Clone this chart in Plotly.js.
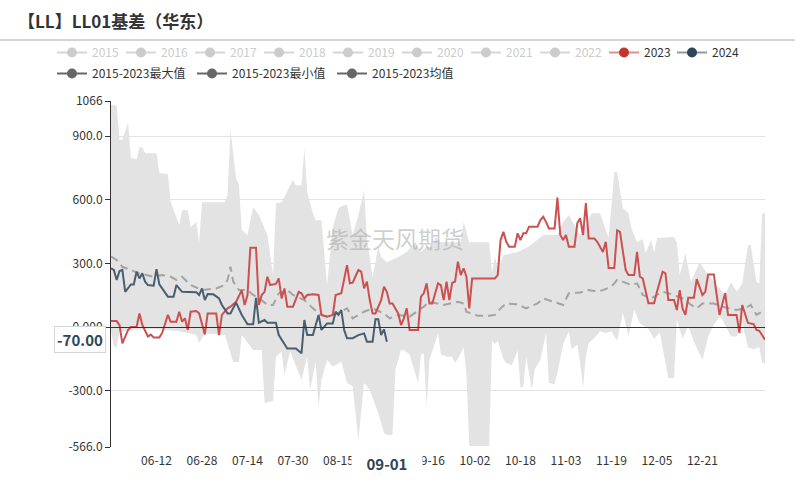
<!DOCTYPE html>
<html>
<head>
<meta charset="utf-8">
<script src="https://cdn.plot.ly/plotly-3.0.1.min.js"></script>
<style>
  html, body { margin: 0; padding: 0; background: #fff; }
  #basisPlot { width: 806px; height: 490px; }
</style>
</head>
<body>
<div id="basisPlot"></div>
<script>
// x axis is a season (MM-DD), from late May into January
let tickDays = ['06-12', '06-28', '07-14', '07-30', '08-15', '09-16', '10-02', '10-18', '11-03', '11-19', '12-05', '12-21'];

// 2015-2023 max / min band
let maxDays = ['05-27','05-29','05-30','05-31','06-02','06-03','06-05','06-06','06-07','06-08','06-12','06-13','06-16','06-17','06-20','06-21','06-23','06-24','06-26','06-27','06-28',
  '07-06','07-07','07-08','07-10','07-11','07-12','07-14','07-16','07-18','07-21','07-23','07-24','07-26','07-30','07-31','08-02','08-03','08-04','08-06','08-07','08-09','08-11','08-13',
  '08-15','08-17','08-18','08-20','08-22','08-24','08-25','08-27','08-29','08-30','09-01','09-05','09-08','09-11','09-13','09-15','09-17','09-18','09-20','09-27','09-28','09-30',
  '10-07','10-08','10-09','10-10','10-12','10-17','10-21','10-26','10-31','11-02','11-04','11-08','11-10','11-12','11-15','11-16','11-18','11-20','11-21','11-23','11-25','11-26',
  '11-28','11-30','12-01','12-03','12-04','12-05','12-09','12-11','12-12','12-13','12-15','12-17','12-18','12-20','12-23','12-25','12-27','12-29','12-31','01-02','01-04','01-06',
  '01-07','01-09','01-10','01-11','01-12'];
let maxVals = [1047,1045,882,882,966,800,790,848,848,820,820,726,722,589,481,551,551,471,495,400,589,
  589,622,928,702,669,457,434,565,528,434,245,584,589,693,669,669,844,636,537,504,504,198,470,
  561,575,575,434,528,645,420,236,377,330,306,330,354,400,354,380,377,424,400,400,495,400,
  400,260,330,278,339,354,380,434,434,495,528,434,481,537,537,495,420,731,731,561,537,467,
  400,415,349,410,349,420,424,424,400,245,349,212,245,306,245,212,184,151,212,168,205,387,
  387,212,205,537,537];

let minDays = ['05-27','05-28','05-29','05-30','06-03','06-10','06-15','06-20','06-26','06-27','06-29','07-04','07-06','07-09','07-11','07-12','07-16','07-19','07-20','07-23','07-24',
  '07-26','07-27','07-29','07-31','08-02','08-04','08-05','08-07','08-08','08-09','08-11','08-13','08-16','08-18','08-20','08-22','08-24','08-26','08-29','08-31','09-01','09-03',
  '09-04','09-06','09-07','09-09','09-12','09-13','09-14','09-15','09-16','09-19','09-20','09-22','09-24','09-25','09-27','09-28','09-29','09-30','10-07','10-08','10-09','10-10',
  '10-12','10-13','10-15','10-17','10-18','10-19','10-20','10-22','10-23','10-25','10-27','10-28','10-30','10-31','11-02','11-04','11-05','11-07','11-08','11-09','11-10','11-11',
  '11-13','11-15','11-17','11-19','11-20','11-21','11-23','11-25','11-27','11-29','12-02','12-04','12-06','12-09','12-11','12-12','12-14','12-16','12-18','12-21','12-23','12-25',
  '12-27','12-28','12-31','01-02','01-04','01-06','01-08','01-10','01-11','01-12'];
let minVals = [-20,-90,-95,-20,-15,-10,-14,-20,-38,-75,-30,-38,-38,-165,-165,-38,-108,-108,-358,-350,-140,
  -116,-226,-116,-179,-250,-140,-297,-164,-377,-250,-155,-187,-164,-264,-280,-533,-264,-297,-406,-500,-509,-509,
  -203,-108,-108,-130,-265,-130,-125,-377,-155,-30,-130,-140,-140,-170,-125,-95,-218,-561,-561,-65,-80,-65,
  -150,-170,-180,-110,-288,-280,-140,-295,-200,-155,-28,-263,-270,-215,-83,-20,-105,-83,-170,-288,-138,-75,
  -52,-20,-28,-20,-42,-65,66,-42,80,18,-10,-55,-25,-240,-240,35,-55,5,-70,-155,-45,10,
  50,35,-45,-45,18,-95,-105,-95,-170,-170];

// 2015-2023 mean
let meanDays = ['05-27','05-29','05-31','06-03','06-06','06-11','06-14','06-17','06-19','06-21','06-24','06-28','07-03','07-06','07-07','07-08','07-09','07-11','07-14','07-16',
  '07-18','07-21','07-23','07-25','07-28','07-30','08-03','08-06','08-09','08-11','08-14','08-18','08-20','08-24','08-27','08-31','09-02','09-05','09-09','09-14','09-16','09-21',
  '09-26','09-28','09-29','10-03','10-07','10-09','10-11','10-13','10-17','10-20','10-24','10-26','10-30','11-02','11-04','11-08','11-11','11-14','11-16','11-19','11-21','11-23',
  '11-26','11-28','11-30','12-03','12-05','12-07','12-11','12-14','12-17','12-19','12-21','12-25','12-28','12-31','01-02','01-05','01-07','01-09','01-11'];
let meanVals = [332,316,284,269,253,237,245,237,222,237,198,174,182,198,222,284,214,174,174,151,
  137,104,104,159,174,151,127,88,57,49,60,88,41,72,88,64,41,57,49,96,119,104,
  119,111,72,53,53,57,88,111,107,88,111,135,116,104,159,163,174,167,174,190,222,214,
  198,206,151,135,151,167,151,135,104,88,111,111,96,88,80,88,104,57,72];

// 2023
let days2023 = ['05-27','05-29','05-30','05-31','06-02','06-03','06-05','06-06','06-07','06-09','06-10','06-11','06-13','06-14','06-16','06-17','06-19','06-20','06-21','06-22',
  '06-23','06-24','06-26','06-27','06-29','06-30','07-01','07-03','07-04','07-05','07-07','07-08','07-10','07-12','07-13','07-14','07-15','07-17','07-18','07-19','07-20','07-21',
  '07-22','07-24','07-25','07-26','07-27','07-28','07-30','08-01','08-02','08-03','08-04','08-06','08-08','08-09','08-11','08-13','08-14','08-16','08-18','08-19','08-20','08-22',
  '08-23','08-24','08-25','08-26','08-27','08-28','08-30','08-31','09-01','09-02','09-03','09-05','09-06','09-07','09-08','09-09','09-12','09-13','09-14','09-15','09-16','09-17',
  '09-19','09-20','09-21','09-22','09-23','09-24','09-25','09-26','09-27','09-28','09-29','09-30','10-01','10-09','10-10','10-11','10-12','10-13','10-14','10-16','10-17','10-18',
  '10-19','10-20','10-21','10-24','10-25','10-26','10-27','10-28','10-30','10-31','11-01','11-02','11-03','11-04','11-06','11-07','11-08','11-09','11-10','11-11','11-13','11-14',
  '11-16','11-17','11-18','11-20','11-21','11-22','11-24','11-25','11-27','11-28','11-29','11-30','12-02','12-04','12-05','12-07','12-08','12-09','12-11','12-12','12-13','12-14',
  '12-15','12-16','12-18','12-19','12-21','12-22','12-23','12-25','12-27','12-29','12-30','01-02','01-03','01-04','01-06','01-08','01-09','01-10','01-12'];
let vals2023 = [28,28,9,-77,-14,0,0,64,10,-45,-36,-49,-49,-28,57,25,25,72,25,41,
  -14,72,75,64,-35,64,64,64,-38,57,88,96,119,174,104,151,374,374,104,151,166,237,
  198,203,229,135,182,96,96,166,159,135,151,154,151,57,49,57,151,159,292,206,209,269,
  261,182,214,127,64,64,127,190,166,111,111,64,9,41,88,-14,-14,143,159,206,111,111,
  206,198,127,214,127,209,214,308,245,277,237,88,229,229,245,410,449,402,379,379,442,410,
  442,442,473,473,504,520,496,465,465,610,434,410,434,379,379,490,513,434,584,418,418,402,
  354,402,278,278,456,449,269,245,245,354,237,229,112,112,166,261,253,127,127,80,174,88,
  57,138,138,226,151,166,248,248,57,160,57,57,-28,104,19,14,-14,-18,-60];

// 2024
let days2024 = ['05-27','05-28','05-29','05-30','05-31','06-01','06-03','06-04','06-05','06-06','06-07','06-08','06-09','06-11','06-12','06-13','06-14','06-16','06-18','06-19',
  '06-21','06-23','06-26','06-27','06-28','06-29','06-30','07-02','07-03','07-04','07-05','07-07','07-08','07-10','07-12','07-14','07-16','07-17','07-18','07-20','07-21','07-24',
  '07-25','07-27','07-28','07-31','08-02','08-03','08-04','08-06','08-08','08-09','08-11','08-13','08-14','08-15','08-16','08-17','08-18','08-20','08-22','08-24','08-25','08-27',
  '08-28','08-29','08-30','08-31','09-01'];
let vals2024 = [277,269,222,264,269,166,201,201,261,229,253,214,198,195,273,201,182,143,143,198,
  166,164,164,151,182,127,155,154,146,135,104,64,64,115,57,13,13,138,20,33,20,20,
  -38,-77,-101,-101,-124,33,-38,-38,57,-14,17,17,72,57,80,-14,-53,-53,-38,-30,-69,-69,
  36,36,-38,-11,-70];

let greyYears = ['2015', '2016', '2017', '2018', '2019', '2020', '2021', '2022'];
let statNames = ['2015-2023最大值', '2015-2023最小值', '2015-2023均值'];

function toDate(md) {
  // January belongs to the following year of the season
  return (md.slice(0, 2) === '01' ? '2024-' : '2023-') + md;
}

let basisPlot = document.getElementById('basisPlot');

function makeBasisPlot(plotDiv) {
  let minTrace = {
    x: minDays.map(toDate), y: minVals,
    type: 'scatter', mode: 'lines',
    line: { width: 0, color: '#e3e3e3' },
    showlegend: false, hoverinfo: 'skip'
  };
  let maxTrace = {
    x: maxDays.map(toDate), y: maxVals,
    type: 'scatter', mode: 'lines',
    line: { width: 0, color: '#e3e3e3' },
    fill: 'tonexty', fillcolor: '#e3e3e3',
    showlegend: false, hoverinfo: 'skip'
  };
  let meanTrace = {
    x: meanDays.map(toDate), y: meanVals,
    type: 'scatter', mode: 'lines',
    line: { color: '#a3a3a3', width: 2, dash: '8px,5px' },
    showlegend: false
  };
  let trace2023 = {
    x: days2023.map(toDate), y: vals2023,
    type: 'scatter', mode: 'lines',
    line: { color: '#cd5050', width: 2 },
    showlegend: false
  };
  let trace2024 = {
    x: days2024.map(toDate), y: vals2024,
    type: 'scatter', mode: 'lines',
    line: { color: '#4a5e6f', width: 2 },
    showlegend: false
  };
  // axis line sitting on zero, with its own tick marks
  let zeroAxisTrace = {
    x: [null], y: [null], xaxis: 'x2', type: 'scatter', mode: 'lines',
    showlegend: false, hoverinfo: 'skip'
  };

  // legend only entries
  let legendRow1 = greyYears.map(year => ({
    x: [null], y: [null], type: 'scatter', mode: 'lines+markers',
    name: `<span style="color:#cccccc">${year}</span>`,
    line: { color: '#d6d6d6', width: 2 },
    marker: { color: '#cccccc', size: 10 },
    legend: 'legend'
  }));
  legendRow1.push({
    x: [null], y: [null], type: 'scatter', mode: 'lines+markers', name: '2023',
    line: { color: '#e08e8e', width: 2 }, marker: { color: '#c23531', size: 10 },
    legend: 'legend'
  });
  // 2024 gets its own legend box so the first row does not wrap
  let legend2024 = {
    x: [null], y: [null], type: 'scatter', mode: 'lines+markers', name: '2024',
    line: { color: '#8d99a3', width: 2 }, marker: { color: '#2f4554', size: 10 },
    legend: 'legend3'
  };
  let legendRow2 = statNames.map(name => ({
    x: [null], y: [null], type: 'scatter', mode: 'lines+markers', name: name,
    line: { color: '#666666', width: 2 }, marker: { color: '#666666', size: 10 },
    legend: 'legend2'
  }));

  let legendBase = {
    orientation: 'h', traceorder: 'normal',
    xref: 'container', yref: 'container', xanchor: 'left', yanchor: 'top',
    itemwidth: 30, bgcolor: 'rgba(0,0,0,0)',
    font: { size: 12, color: '#333' }
  };

  let layout = {
    width: 806,
    height: 490,
    margin: { l: 111, r: 41, t: 101, b: 43 },
    paper_bgcolor: '#fff',
    plot_bgcolor: '#fff',
    font: { family: 'Noto Sans CJK SC, sans-serif', size: 12, color: '#333' },
    title: {
      text: '<b>【LL】LL01基差（华东）</b>',
      xref: 'container', yref: 'container',
      x: 18 / 806, xanchor: 'left',
      y: 1 - 22 / 490, yanchor: 'middle',
      font: { size: 17, color: '#333' }
    },
    showlegend: true,
    legend: Object.assign({}, legendBase, { x: 52 / 806, y: 1 - 38 / 490, entrywidth: 24 }),
    legend2: Object.assign({}, legendBase, { x: 52 / 806, y: 1 - 59 / 490, entrywidth: 95 }),
    legend3: Object.assign({}, legendBase, { x: 672 / 806, y: 1 - 38 / 490, entrywidth: 24 }),
    xaxis: {
      type: 'date',
      range: [toDate('05-27'), toDate('01-12')],
      tickmode: 'array',
      tickvals: tickDays.map(toDate),
      ticktext: tickDays,
      showgrid: false, showline: false, zeroline: false,
      ticks: '', ticklabelstandoff: 5,
      tickfont: { size: 12, color: '#333' },
      fixedrange: true
    },
    xaxis2: {
      overlaying: 'x', matches: 'x',
      anchor: 'free', position: 566 / 1632,
      tickmode: 'array',
      tickvals: tickDays.map(toDate),
      showticklabels: false,
      ticks: 'outside', ticklen: 5, tickcolor: '#333',
      showline: true, linecolor: '#333', linewidth: 1,
      showgrid: false, zeroline: false
    },
    yaxis: {
      range: [-566, 1066],
      tickmode: 'array',
      tickvals: [-566, -300, 0, 300, 600, 900, 1066],
      ticktext: ['-566.0', '-300.0', '0.000', '300.0', '600.0', '900.0', '1066'],
      showline: true, linecolor: '#333',
      ticks: 'outside', ticklen: 5, tickcolor: '#333',
      gridcolor: '#e3e3e3',
      zeroline: false,
      tickfont: { size: 12, color: '#333' },
      fixedrange: true
    },
    shapes: [
      // rule under the title
      {
        type: 'line', xref: 'paper', yref: 'paper',
        x0: -111 / 654, x1: 684 / 654, y0: 407 / 346, y1: 407 / 346,
        line: { color: '#aaa', width: 1 }
      }
    ],
    annotations: [
      // watermark
      {
        xref: 'paper', yref: 'paper', x: 0.434, y: 0.604,
        text: '紫金天风期货', showarrow: false,
        font: { size: 23, color: 'rgba(165,165,165,0.55)' }
      },
      // x pointer label
      {
        xref: 'x', yref: 'paper', x: toDate('09-01'), y: -0.045,
        xanchor: 'center', yanchor: 'middle',
        text: '<b>09-01</b>', showarrow: false,
        width: 68, height: 22, bgcolor: '#fff',
        font: { size: 15, color: '#2f4554' }
      },
      // y pointer label
      {
        xref: 'paper', yref: 'y', x: -5 / 654, y: -60,
        xanchor: 'right', yanchor: 'middle',
        text: '<b>-70.00</b>', showarrow: false,
        bgcolor: '#fff', bordercolor: '#d5d5d5', borderwidth: 1, borderpad: 2,
        font: { size: 15, color: '#2f4554' }
      }
    ],
    hovermode: false
  };

  let data = [minTrace, maxTrace, meanTrace, trace2023, trace2024, zeroAxisTrace]
    .concat(legendRow1, [legend2024], legendRow2);

  Plotly.newPlot(plotDiv, data, layout, { displayModeBar: false, staticPlot: true });
}

makeBasisPlot(basisPlot);
</script>
</body>
</html>
